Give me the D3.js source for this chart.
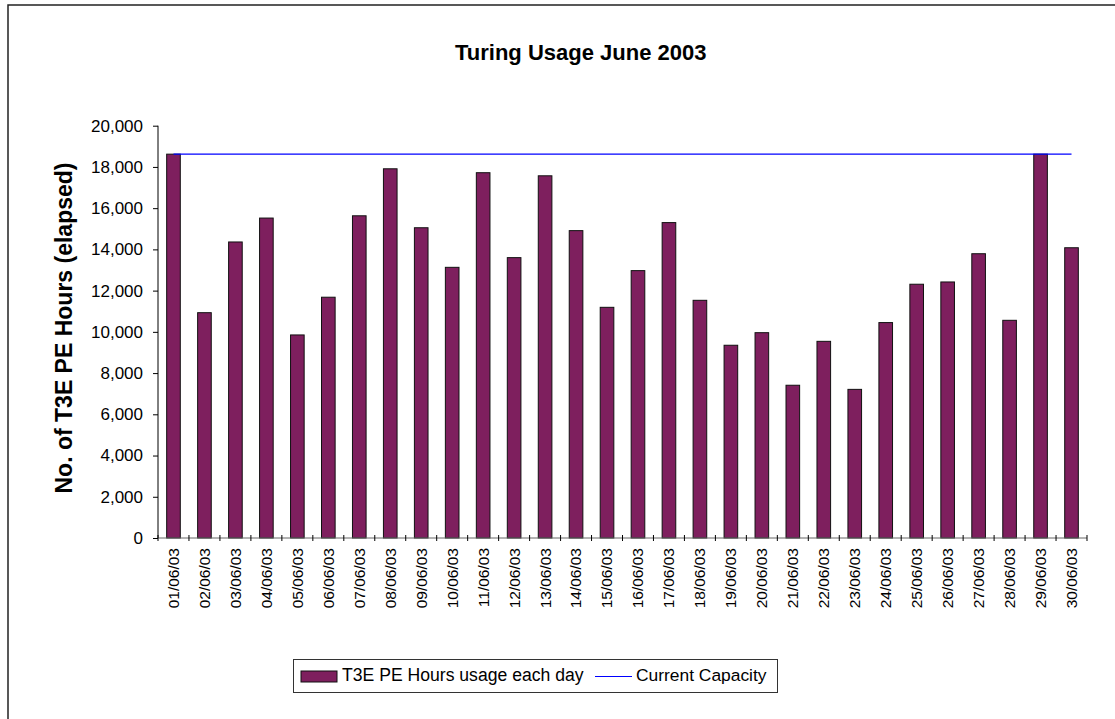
<!DOCTYPE html>
<html><head><meta charset="utf-8">
<script src="https://cdnjs.cloudflare.com/ajax/libs/d3/7.8.5/d3.min.js"></script>
<style>
html,body{margin:0;padding:0;background:#fff;}
svg{display:block;font-family:"Liberation Sans",Arial,sans-serif;}
</style></head>
<body>
<script>
const days = ["01/06/03","02/06/03","03/06/03","04/06/03","05/06/03","06/06/03","07/06/03","08/06/03","09/06/03","10/06/03",
"11/06/03","12/06/03","13/06/03","14/06/03","15/06/03","16/06/03","17/06/03","18/06/03","19/06/03","20/06/03",
"21/06/03","22/06/03","23/06/03","24/06/03","25/06/03","26/06/03","27/06/03","28/06/03","29/06/03","30/06/03"];
const usage = [18620,10930,14360,15520,9850,11680,15630,17910,15050,13130,
17720,13600,17570,14910,11190,12970,15300,11530,9350,9960,
7410,9540,7210,10450,12310,12420,13790,10560,18620,14080];
const capacity = 18620;
const yTicks = [0,2000,4000,6000,8000,10000,12000,14000,16000,18000,20000];
const seriesNames = ["T3E PE Hours usage each day","Current Capacity"];
const chartTitle = "Turing Usage June 2003";
const yTitle = "No. of T3E PE Hours (elapsed)";

(function(){
const W=1115,H=719;
const FF="Liberation Sans, Arial, sans-serif";
const svg=d3.select("body").append("svg").attr("width",W).attr("height",H);
svg.append("rect").attr("x",8).attr("y",5).attr("width",1130).attr("height",730)
  .attr("fill","#fff").attr("stroke","#222").attr("stroke-width",1.5);

const pl=158,pr=1087,pt=125.7,pb=538;
const x=d3.scaleBand().domain(days).range([pl,pr]).paddingInner(0.56).paddingOuter(0.28);
const y=d3.scaleLinear().domain([0,20000]).range([pb,pt]);

// bars
svg.append("g").selectAll("rect").data(usage).join("rect")
  .attr("x",(d,i)=>x(days[i])).attr("y",d=>y(d))
  .attr("width",x.bandwidth()).attr("height",d=>pb-y(d))
  .attr("fill","#7e1f5e").attr("stroke","#111").attr("stroke-width",1);

// capacity line
const step=(pr-pl)/days.length;
const cx=d=>x(d)+x.bandwidth()/2;
svg.append("line").attr("x1",cx(days[0])).attr("x2",cx(days[days.length-1]))
  .attr("y1",y(capacity)).attr("y2",y(capacity)).attr("stroke","#0000ff").attr("stroke-width",1.3);

// y axis
const ya=svg.append("g").attr("transform",`translate(${pl},0)`)
  .call(d3.axisLeft(y).tickValues(yTicks).tickFormat(d3.format(",")).tickSize(5).tickPadding(10));
ya.select(".domain").attr("stroke","#000").attr("d",`M0,${pb}V${pt}`);
ya.selectAll(".tick line").attr("stroke","#000");
ya.selectAll("text").attr("font-size",17).attr("fill","#000").attr("font-family",FF);

// x axis
const xa=svg.append("g").attr("transform",`translate(0,${pb})`)
  .call(d3.axisBottom(x).tickSize(0).tickPadding(0));
xa.select(".domain").remove();
svg.append("line").attr("x1",pl).attr("x2",pr).attr("y1",pb).attr("y2",pb).attr("stroke","#666").attr("stroke-width",1);
const bounds=d3.range(days.length+1).map(i=>pl+i*step);
svg.append("g").selectAll("line").data(bounds).join("line")
  .attr("x1",d=>d).attr("x2",d=>d).attr("y1",pb-3).attr("y2",pb+3).attr("stroke","#000");
xa.selectAll("text").attr("font-size",15.5).attr("fill","#000")
  .attr("font-family",FF)
  .attr("text-anchor","end").attr("dy","0.35em")
  .attr("transform","translate(0,10) rotate(-90)");

// titles
svg.append("text").attr("x",455).attr("y",60).attr("text-anchor","start")
  .attr("font-size",22).attr("font-weight","bold").text(chartTitle);
svg.append("text").attr("transform","translate(71.5,328) rotate(-90)").attr("text-anchor","middle")
  .attr("font-size",23).attr("font-weight","bold").text(yTitle);

// legend
const lg=svg.append("g");
lg.append("rect").attr("x",293.5).attr("y",659.5).attr("width",484).attr("height",33)
  .attr("fill","#fff").attr("stroke","#333").attr("stroke-width",1);
lg.append("rect").attr("x",301).attr("y",671).attr("width",36).attr("height",11)
  .attr("fill","#7e1f5e").attr("stroke","#111");
lg.append("text").attr("x",342).attr("y",681).attr("font-size",17.6).text(seriesNames[0]);
lg.append("line").attr("x1",595).attr("x2",632).attr("y1",676.5).attr("y2",676.5).attr("stroke","#0000ff").attr("stroke-width",1.2);
lg.append("text").attr("x",636).attr("y",681).attr("font-size",17.4).text(seriesNames[1]);
})();
</script>
</body></html>
